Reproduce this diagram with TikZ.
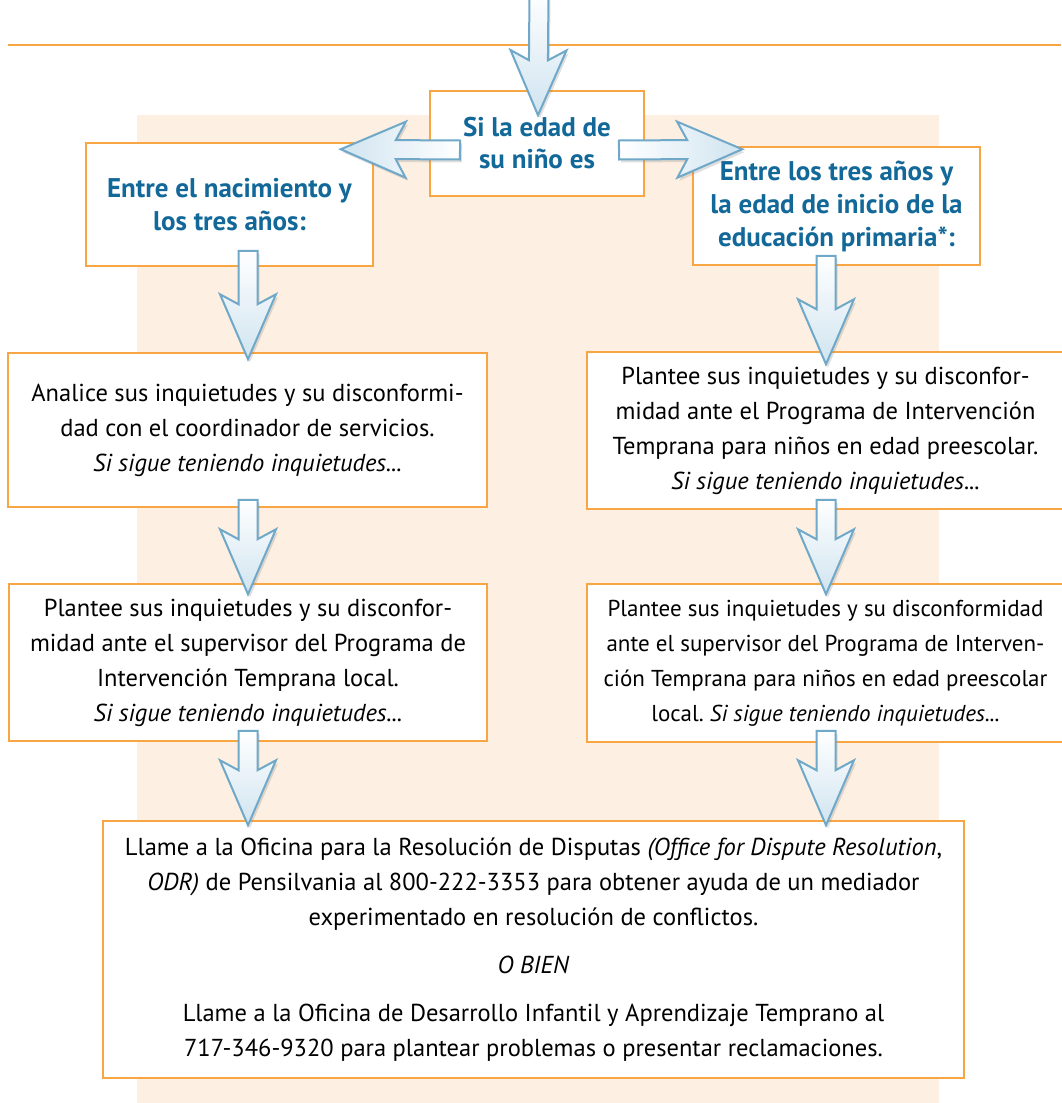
\documentclass[tikz,border=0pt]{standalone}
\usepackage{fontspec}
\setmainfont{PT Sans}
\usetikzlibrary{calc, shadows}
\frenchspacing

\definecolor{boxorange}{RGB}{247,166,67}
\definecolor{paper}{RGB}{253,240,226}
\definecolor{headblue}{RGB}{18,104,152}
\definecolor{arrowline}{RGB}{111,168,200}
\definecolor{arrowfill}{RGB}{208,228,240}

% block arrow from #2 to #3, #1 = shading
\newcommand{\blockarrow}[3][]{%
  \path (#2) coordinate (ba-s) (#3) coordinate (ba-t);
  \path ($(ba-t)!55pt!(ba-s)$) coordinate (ba-j)
        ($(ba-t)!65pt!(ba-s)$) coordinate (ba-b);
  \path[arrow body, #1] ($(ba-s)!9.5pt!90:(ba-t)$) -- ($(ba-j)!9.5pt!90:(ba-t)$)
    -- ($(ba-b)!28pt!90:(ba-t)$) -- (ba-t) -- ($(ba-b)!28pt!-90:(ba-t)$)
    -- ($(ba-j)!9.5pt!-90:(ba-t)$) -- ($(ba-s)!9.5pt!-90:(ba-t)$) -- cycle;
}

\begin{document}
\begin{tikzpicture}[x=1pt, y=-1pt,
  box/.style={draw=boxorange, line width=1.5pt, fill=white, align=center,
    inner sep=0pt, font=\fontsize{24.5}{35}\selectfont},
  agebox/.style={box, text=headblue, font=\fontsize{27}{33}\selectfont\bfseries},
  arrow body/.style={draw=arrowline, line width=2pt,
    drop shadow={opacity=0.25, shadow xshift=2pt, shadow yshift=-3pt}},
  down/.style={top color=white, bottom color=arrowfill},
  tleft/.style={left color=arrowfill, right color=white},
  tright/.style={left color=white, right color=arrowfill}]

    \useasboundingbox (0, 0) rectangle (1061, 1103);

    \fill[paper] (137, 115) rectangle (939, 1110);
    \draw[boxorange, line width=2pt] (8, 45) -- (1061, 45);

    \node[box, minimum width=214, minimum height=105, text=headblue,
      font=\fontsize{27}{32}\selectfont\bfseries] (age) at (537, 143.5)
      {Si la edad de\\su niño es};

    \node[agebox, minimum width=287, minimum height=123] (birth) at (229.5, 204.5)
      {Entre el nacimiento y\\los tres años:};
    \node[agebox, minimum width=287, minimum height=118] (school) at (836.5, 206)
      {Entre los tres años y\\la edad de inicio de la\\educación primaria*:};

    \node[box, minimum width=479, minimum height=154] (talkL) at (247.5, 430)
      {Analice sus inquietudes y su disconformi-\\dad con el coordinador de servicios.\\
       \textit{Si sigue teniendo inquietudes...}};
    \node[box, minimum width=477, minimum height=157] (talkR) at (825.5, 430.5)
      {Plantee sus inquietudes y su disconfor-\\midad ante el Programa de Intervención\\
       Temprana para niños en edad preescolar.\\\textit{Si sigue teniendo inquietudes...}};

    \node[box, minimum width=478, minimum height=157] (supL) at (248, 662.5)
      {Plantee sus inquietudes y su disconfor-\\midad ante el supervisor del Programa de\\
       Intervención Temprana local.\\\textit{Si sigue teniendo inquietudes...}};
    \node[box, minimum width=477, minimum height=158, font=\fontsize{23}{35}\selectfont]
      (supR) at (825.5, 663)
      {Plantee sus inquietudes y su disconformidad\\ante el supervisor del Programa de Interven-\\
       ción Temprana para niños en edad preescolar\\local. \textit{Si sigue teniendo inquietudes...}};

    \node[box, minimum width=861, minimum height=257] (odr) at (533.5, 949.5)
      {Llame a la Oficina para la Resolución de Disputas \textit{(Office for Dispute Resolution},\\
       \textit{ODR)} de Pensilvania al 800-222-3353 para obtener ayuda de un mediador\\
       experimentado en resolución de conflictos.\\[13pt]
       \textit{O BIEN}\\[13pt]
       Llame a la Oficina de Desarrollo Infantil y Aprendizaje Temprano al\\
       717-346-9320 para plantear problemas o presentar reclamaciones.};

    % arrows
    \coordinate (top) at (539, -10);
    \blockarrow[down]{top}{$(age.north)+(1, 25)$}
    \blockarrow[tleft]{$(age.center)+(-77, 6.5)$}{$(birth.north east)+(-33, 7)$}
    \blockarrow[tright]{$(age.center)+(82, 6.5)$}{$(school.north west)+(50, 3)$}

    \blockarrow[down]{$(birth.south)+(18.5, -16)$}{$(talkL.north)+(0.5, 7)$}
    \blockarrow[down]{$(school.south)+(-10.5, -10)$}{$(talkR.north)+(0.5, 13)$}

    \blockarrow[down]{$(talkL.south)+(0.5, -8)$}{$(supL.north)+(0, 11)$}
    \blockarrow[down]{$(talkR.south)+(0.5, -10)$}{$(supR.north)+(0.5, 11)$}

    \blockarrow[down]{$(supL.south)+(0, -11)$}{$(odr.north -| supL.south)+(0, 5)$}
    \blockarrow[down]{$(supR.south)+(0.5, -12)$}{$(odr.north -| supR.south)+(0.5, 5)$}
\end{tikzpicture}
\end{document}
